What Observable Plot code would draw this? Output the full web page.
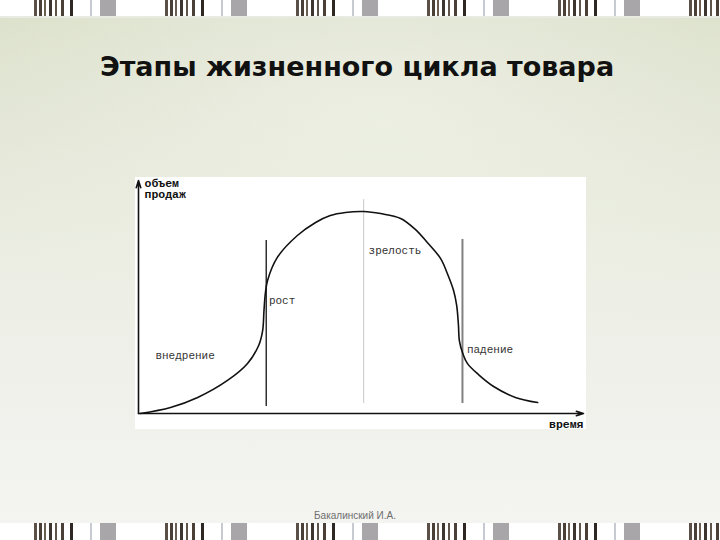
<!DOCTYPE html>
<html><head><meta charset="utf-8">
<script src="https://cdn.jsdelivr.net/npm/d3@7"></script>
<script src="https://cdn.jsdelivr.net/npm/@observablehq/plot@0.6"></script>
<style>
html,body{margin:0;padding:0;}
body{width:720px;height:540px;position:relative;overflow:hidden;
 background:
  radial-gradient(ellipse 420px 260px at 380px 120px, rgba(240,242,232,0.7), rgba(240,242,232,0) 100%),
  linear-gradient(180deg,#dbe0ca 0%,#e4e7d7 25%,#eceee4 50%,#f1f1ec 75%,#f4f4f1 100%);
 font-family:"Liberation Sans",Arial,sans-serif;}
.strip{position:absolute;left:0;width:720px;background-color:#f7f8fb;
 background-image:repeating-linear-gradient(90deg,
  #fff 0px,#fff 34px,
  #5a5048 34px,#5a5048 37px,#fff 37px,#fff 39px,#4a4038 39px,#4a4038 42px,#fff 42px,#fff 44px,
  #6a5e52 44px,#6a5e52 46px,#fff 46px,#fff 49px,#3d3530 49px,#3d3530 52px,#fff 52px,#fff 55px,
  #5e544a 55px,#5e544a 57px,#fff 57px,#fff 61px,#4a4038 61px,#4a4038 64px,#fff 64px,#fff 70px,
  #2e2824 70px,#2e2824 73px,#fff 73px,#fff 90px,#c8cad2 90px,#c8cad2 92px,#fff 92px,#fff 100px,
  #a8a6a8 100px,#a8a6a8 116px,#fff 116px,#fff 131px);}
#top{top:0;height:16px;border-bottom:2px solid #e9ebe3;}
#bot{top:523px;height:17px;}
#title{position:absolute;top:51px;left:0;width:714px;text-align:center;font-family:"DejaVu Sans",sans-serif;font-weight:bold;font-size:27px;color:#111;}
#chart{position:absolute;left:135px;top:177px;width:451px;height:252px;background:#fff;}
#chart svg{overflow:visible;}
#chart svg text{font-family:"Liberation Mono","Courier New","DejaVu Sans Mono",monospace !important;}
#foot{position:absolute;top:510px;left:0;width:710px;text-align:center;font-size:10px;color:#6f6f6f;}
</style></head>
<body>
<div class="strip" id="top"></div>
<div id="title">Этапы жизненного цикла товара</div>
<div id="chart"></div>
<div id="foot">Бакалинский И.А.</div>
<div class="strip" id="bot"></div>
<script>
// time (0..100) and sales volume (0..100)
const time  = [0.4,7.2,13.3,20.0,24.5,27.0,27.9,28.2,28.5,29.0,31.2,35.7,39.8,43.1,46.5,50.6,54.4,58.9,62.2,64.9,67.9,69.4,70.8,71.5,71.9,72.1,72.8,73.9,76.4,79.8,84.7,89.7];
const sales = [0.0,2.6,6.9,14.2,21.5,29.2,35.6,44.2,51.5,57.1,67.0,76.4,82.0,85.0,86.3,86.7,85.8,83.7,79.0,73.4,66.5,60.1,52.8,46.4,37.8,31.3,26.2,21.5,16.7,11.6,6.9,4.7];

// stage boundaries
const boundX      = [28.7, 50.6, 72.8];
const boundTop    = [74.2, 91.8, 74.7];
const boundBottom = [3.0, 4.3, 4.3];
const boundColor  = ["#111", "#c8c8c8", "#808080"];
const boundWidth  = [1.3, 1, 2];

// stage labels
const stageNames = ["внедрение", "рост", "зрелость", "падение"];
const stageX     = [3.8, 29.3, 51.7, 73.8];
const stageY     = [24.9, 48.5, 70.0, 27.5];

const axisYLabel = "объем\nпродаж";
const axisXLabel = "время";
const xMax = 100, yMax = 100;

const curve  = time.map((t,i)=>({t, s:sales[i]}));
const bounds = boundX.map((x,i)=>({x, y1:boundBottom[i], y2:boundTop[i], c:boundColor[i], w:boundWidth[i]}));
const stages = stageNames.map((n,i)=>({n, x:stageX[i], y:stageY[i]}));

const chart = Plot.plot({
  width: 451, height: 252,
  marginLeft: 3, marginRight: 3, marginTop: 3, marginBottom: 16,
  x: {domain:[0,xMax], axis:null},
  y: {domain:[0,yMax], axis:null},
  style: {background:"transparent", overflow:"visible"},
  marks: [
    ...bounds.map(b => Plot.ruleX([b], {x:"x", y1:"y1", y2:"y2", stroke:b.c, strokeWidth:b.w})),
    Plot.arrow([{x1:0,y1:0,x2:xMax,y2:0}], {x1:"x1",y1:"y1",x2:"x2",y2:"y2", stroke:"#111", strokeWidth:1.6, headLength:7, headAngle:35}),
    Plot.arrow([{x1:0,y1:0,x2:0,y2:yMax}], {x1:"x1",y1:"y1",x2:"x2",y2:"y2", stroke:"#111", strokeWidth:1.6, headLength:7, headAngle:35}),
    Plot.line(curve, {x:"t", y:"s", curve:"catmull-rom", stroke:"#111", strokeWidth:1.6}),
    Plot.text(stages, {x:"x", y:"y", text:"n", textAnchor:"start", fontSize:11, fill:"#333"}),
    Plot.text([axisYLabel], {x:0, y:yMax, text:d=>d, dx:6, dy:-2, textAnchor:"start", lineAnchor:"top", fontSize:11.5, fontWeight:"bold", fill:"#111", lineHeight:1}),
    Plot.text([axisXLabel], {x:xMax, y:0, text:d=>d, dy:11, textAnchor:"end", fontSize:11.5, fontWeight:"bold", fill:"#111"})
  ]
});
document.getElementById("chart").appendChild(chart);
</script>
</body></html>
